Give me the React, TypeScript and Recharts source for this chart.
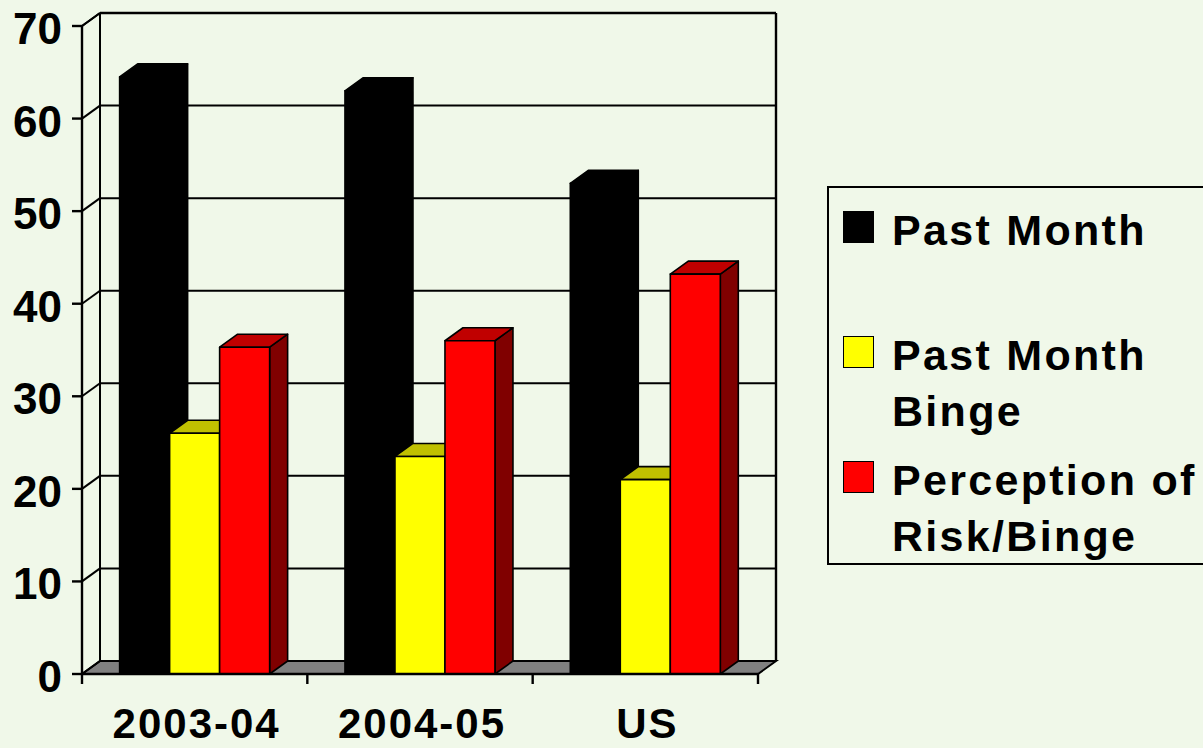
import React from 'react';
import { BarChart, Bar, XAxis, YAxis, CartesianGrid } from 'recharts';

const categories = ['2003-04', '2004-05', 'US'];
const pastMonth = [64.5, 63.0, 53.0];
const pastMonthBinge = [26.0, 23.5, 21.0];
const perceptionOfRisk = [35.3, 36.0, 43.2];
const yTicks = [0, 10, 20, 30, 40, 50, 60, 70];

const seriesKeys = ['pastMonth', 'binge', 'risk'];
const legendLines = [['Past Month'], ['Past Month', 'Binge'], ['Perception of', 'Risk/Binge']];
const frontColors = ['#000000', '#FFFF00', '#FF0000'];
const topColors = ['#000000', '#C0C000', '#C00000'];
const sideColors = ['#000000', '#808000', '#800000'];

const data = categories.map((name, i) => ({
  name,
  pastMonth: pastMonth[i],
  binge: pastMonthBinge[i],
  risk: perceptionOfRisk[i],
}));

const FONT = '"Liberation Sans", Arial, sans-serif';
const BG = '#F0F8E9';
const W = 1203;
const H = 748;
const MARGIN = { top: 26, right: 445, bottom: 0, left: 0 };
const Y_AXIS_W = 82;
const X_AXIS_H = 74;
// 3D depth offset of the back wall
const DX = 18;
const DY = 13;

const plotLeft = MARGIN.left + Y_AXIS_W;
const plotW = W - MARGIN.right - plotLeft;
const plotTop = MARGIN.top;
const plotH = H - MARGIN.bottom - X_AXIS_H - plotTop;

const makeBar3D = (si: number) => (props: any) => {
  const { x, y, width, height } = props;
  if (width == null || height == null) return null;
  const x2 = x + width;
  const y2 = y + height;
  const stroke = { stroke: '#000', strokeWidth: 1.6, strokeLinejoin: 'round' as const };
  return (
    <g>
      <polygon
        points={`${x2},${y} ${x2 + DX},${y - DY} ${x2 + DX},${y2 - DY} ${x2},${y2}`}
        fill={sideColors[si]}
        {...stroke}
      />
      <polygon
        points={`${x},${y} ${x + DX},${y - DY} ${x2 + DX},${y - DY} ${x2},${y}`}
        fill={topColors[si]}
        {...stroke}
      />
      <rect x={x} y={y} width={width} height={height} fill={frontColors[si]} {...stroke} />
    </g>
  );
};

// back wall gridlines + the left-wall diagonals, plus floor and wall frame
const WallLine = (props: any) => {
  const { x1, x2, y1, index } = props;
  const x = props.x ?? plotLeft;
  const y = props.y ?? plotTop;
  const width = props.width ?? plotW;
  const height = props.height ?? plotH;
  const bottom = y + height;
  const ln = { stroke: '#000', strokeWidth: 2 };
  return (
    <g>
      {index === 0 && (
        <g>
          <polygon
            points={`${x},${bottom} ${x + width},${bottom} ${x + width + DX},${bottom - DY} ${x + DX},${bottom - DY}`}
            fill="#808080"
            stroke="#000"
            strokeWidth={2}
          />
          <line x1={x + DX} y1={y - DY} x2={x + DX} y2={bottom - DY} {...ln} />
          <line x1={x + width + DX} y1={y - DY} x2={x + width + DX} y2={bottom - DY} {...ln} strokeWidth={2.4} />
          <line x1={x + DX} y1={y - DY} x2={x + width + DX} y2={y - DY} {...ln} strokeWidth={2.6} />
          <line x1={x} y1={y} x2={x + DX} y2={y - DY} {...ln} />
        </g>
      )}
      <line x1={x1} y1={y1} x2={x1 + DX} y2={y1 - DY} {...ln} />
      <line x1={x1 + DX} y1={y1 - DY} x2={x2 + DX} y2={y1 - DY} {...ln} />
    </g>
  );
};

const YTick = (props: any) => {
  const { x, y, payload } = props;
  return (
    <text x={x} y={y} dy={18} textAnchor="end" fontFamily={FONT} fontWeight="bold" fontSize={44} fill="#000">
      {payload.value}
    </text>
  );
};

const XTick = (props: any) => {
  const { x, payload, index } = props;
  const half = plotW / categories.length / 2;
  const axisY = plotTop + plotH;
  return (
    <g>
      <line x1={x - half} y1={axisY} x2={x - half} y2={axisY + 10} stroke="#000" strokeWidth={2.4} />
      {index === categories.length - 1 && (
        <line x1={x + half} y1={axisY} x2={x + half} y2={axisY + 10} stroke="#000" strokeWidth={2.4} />
      )}
      <text
        x={x + 2}
        y={axisY + 64}
        textAnchor="middle"
        fontFamily={FONT}
        fontWeight="bold"
        fontSize={42}
        letterSpacing={2}
        fill="#000"
      >
        {payload.value}
      </text>
    </g>
  );
};

const legendTops = [14, 139, 264];

const LegendBox = () => (
  <div
    style={{
      position: 'absolute',
      left: 827,
      top: 186,
      width: 380,
      height: 379,
      boxSizing: 'border-box',
      border: '2px solid #000',
      fontFamily: FONT,
      fontWeight: 'bold',
      fontSize: 43,
      lineHeight: '56px',
      letterSpacing: 2.3,
      color: '#000',
    }}
  >
    {legendLines.map((lines, i) => (
      <div key={i} style={{ position: 'absolute', left: 14, top: legendTops[i], whiteSpace: 'nowrap' }}>
        <div
          style={{
            position: 'absolute',
            left: 0,
            top: 9,
            width: 31,
            height: 32,
            boxSizing: 'border-box',
            background: frontColors[i],
            border: '1.5px solid #000',
          }}
        />
        <div style={{ marginLeft: 49 }}>
          {lines.map((t, j) => (
            <div key={j}>{t}</div>
          ))}
        </div>
      </div>
    ))}
  </div>
);

export default function App() {
  return (
    <div style={{ position: 'relative', width: W, height: H, background: BG, overflow: 'hidden' }}>
      <style>{`body{margin:0;background:${BG};overflow:hidden}`}</style>
      <BarChart width={W} height={H} data={data} margin={MARGIN} barCategoryGap="16.7%" barGap={0}>
        <CartesianGrid vertical={false} horizontal={WallLine} />
        <XAxis
          dataKey="name"
          height={X_AXIS_H}
          interval={0}
          tickLine={false}
          axisLine={{ stroke: '#000', strokeWidth: 2.6 }}
          tick={<XTick />}
        />
        <YAxis
          type="number"
          domain={[0, 70]}
          ticks={yTicks}
          interval={0}
          width={Y_AXIS_W}
          tickSize={10}
          tickMargin={10}
          axisLine={{ stroke: '#000', strokeWidth: 2.4 }}
          tickLine={{ stroke: '#000', strokeWidth: 2.4 }}
          tick={<YTick />}
        />
        {seriesKeys.map((k, si) => (
          <Bar key={k} dataKey={k} fill={frontColors[si]} shape={makeBar3D(si)} isAnimationActive={false} />
        ))}
      </BarChart>
      <LegendBox />
    </div>
  );
}
